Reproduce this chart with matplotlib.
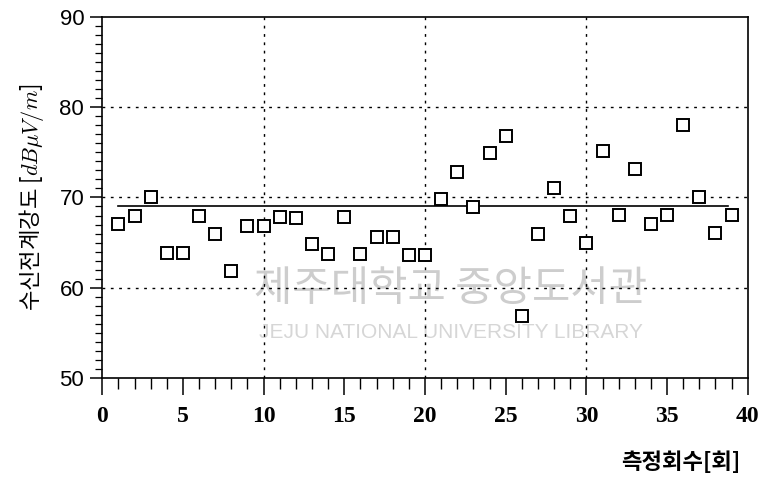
import numpy as np
import matplotlib
matplotlib.use("Agg")
import matplotlib.pyplot as plt
from matplotlib.ticker import MultipleLocator

plt.rcParams["font.family"] = ["Noto Sans CJK KR", "DejaVu Sans"]
plt.rcParams["mathtext.fontset"] = "cm"

# measurement number and received field strength
runs = np.arange(1, 40)
field = [67.1, 68.0, 70.0, 63.9, 63.9, 67.9, 65.9, 61.8, 66.8, 66.8,
         67.8, 67.7, 64.8, 63.7, 67.8, 63.7, 65.6, 65.6, 63.6, 63.6,
         69.8, 72.8, 68.9, 74.9, 76.8, 56.9, 66.0, 71.0, 68.0, 65.0,
         75.1, 68.1, 73.1, 67.1, 68.1, 78.0, 70.1, 66.1, 68.1]
ref_x = [1, 38.8]
ref_level = [69.0, 69.0]

xticks = [0, 5, 10, 15, 20, 25, 30, 35, 40]
yticks = [50, 60, 70, 80, 90]

fig = plt.figure(figsize=(7.63, 4.84), dpi=100)
ax = fig.add_axes([0.134, 0.219, 0.846, 0.746])

ax.plot(ref_x, ref_level, color="black", lw=1.2, zorder=3)
ax.plot(runs, field, ls="none", marker="s", ms=9.2, mfc="white",
        mec="black", mew=1.4, zorder=4)

ax.set_xlim(0, 40)
ax.set_ylim(50, 90)
ax.set_xticks(xticks)
ax.set_yticks(yticks)
ax.xaxis.set_minor_locator(MultipleLocator(1))
ax.yaxis.set_minor_locator(MultipleLocator(1))
ax.tick_params(axis="x", which="major", direction="out", length=12, width=1.1, pad=8)
ax.tick_params(axis="x", which="minor", direction="out", length=8, width=1.0)
ax.tick_params(axis="y", which="major", direction="out", length=9, width=1.1, pad=4)
ax.tick_params(axis="y", which="minor", direction="out", length=5, width=0.9)

for lab in ax.get_xticklabels():
    lab.set_family("Liberation Serif")
    lab.set_fontweight("bold")
    lab.set_fontsize(17)
for lab in ax.get_yticklabels():
    lab.set_family("Liberation Sans")
    lab.set_fontsize(16)

for x in [10, 20, 30]:
    ax.axvline(x, color="black", lw=1.0, ls=(0, (2, 4)), zorder=2)
for y in [60, 70, 80]:
    ax.axhline(y, color="black", lw=1.0, ls=(0, (2, 4)), zorder=2)

for s in ax.spines.values():
    s.set_linewidth(1.2)

# library watermark
ax.text(0.54, 0.245, "제주대학교 중앙도서관", transform=ax.transAxes,
        ha="center", va="center", fontsize=30, color="#cdcdcd", zorder=1)
ax.text(0.54, 0.127, "JEJU NATIONAL UNIVERSITY LIBRARY", transform=ax.transAxes,
        ha="center", va="center", fontsize=15, color="#d6d6d6",
        family="Liberation Sans", zorder=1)

ax.set_ylabel(r"수신전계강도 [$dB\mu V/m$]", fontsize=16, labelpad=10)
fig.text(0.97, 0.045, "측정회수[회]", ha="right", va="center",
         fontsize=16, fontweight="bold")

fig.savefig("out.png", dpi=100)
